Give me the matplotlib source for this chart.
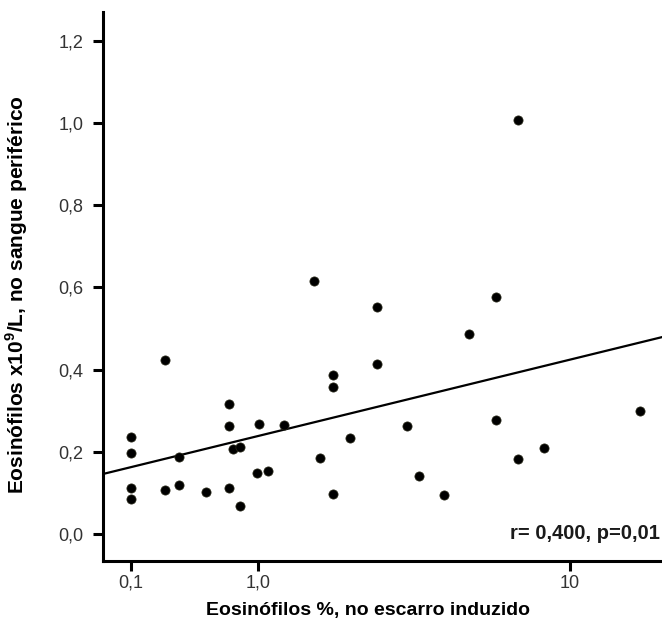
import numpy as np
import matplotlib
matplotlib.use("Agg")
import matplotlib.pyplot as plt

plt.rcParams['font.family'] = ['Liberation Sans', 'DejaVu Sans']
plt.rcParams['mathtext.fontset'] = 'custom'
plt.rcParams['mathtext.rm'] = 'Liberation Sans'
plt.rcParams['mathtext.bf'] = 'Liberation Sans:bold'

# sputum eosinophils (%) vs blood eosinophils (x10^9/L)
escarro = [0.10, 0.10, 0.10, 0.10, 0.28, 0.28, 0.365, 0.365, 0.55, 0.73,
           0.73, 0.73, 0.77, 0.83, 0.83, 0.99, 1.01, 1.11, 1.28, 1.67,
           1.75, 1.95, 1.95, 1.95, 2.23, 2.73, 2.73, 3.41, 3.70, 4.40,
           5.21, 6.24, 6.24, 7.20, 7.20, 8.50, 15.45]
sangue = [0.237, 0.198, 0.112, 0.084, 0.423, 0.107, 0.187, 0.119, 0.102, 0.316,
          0.263, 0.113, 0.206, 0.212, 0.067, 0.148, 0.268, 0.153, 0.266, 0.616,
          0.185, 0.386, 0.357, 0.097, 0.234, 0.552, 0.414, 0.263, 0.141, 0.095,
          0.486, 0.577, 0.277, 1.007, 0.183, 0.210, 0.300]

x_ticks = [0.1, 1.0, 10]
x_ticklabels = ['0,1', '1,0', '10']
y_ticks = [0.0, 0.2, 0.4, 0.6, 0.8, 1.0, 1.2]
y_ticklabels = ['0,0', '0,2', '0,4', '0,6', '0,8', '1,0', '1,2']

# fitted line (ends of the axis)
fit_x = [-0.024, 17.67]
fit_y = [0.146, 0.479]

OFFSET = 0.715


def fwd(x):
    return np.log10(np.asarray(x) + OFFSET)


def inv(t):
    return 10 ** np.asarray(t) - OFFSET


fig = plt.figure(figsize=(6.62, 6.24), dpi=100)
ax = fig.add_axes([103 / 662, 63 / 624, 1 - 103 / 662, 549 / 624])
ax.set_xscale('function', functions=(fwd, inv))

ax.scatter(escarro, sangue, s=44, color='black', edgecolors='#2a2a1a', linewidths=0.5, zorder=3)
ax.plot(fit_x, fit_y, color='black', lw=1.6, zorder=2)

ax.set_xlim(-0.024, 17.67)
ax.set_ylim(-0.0657, 1.270)

ax.spines['top'].set_visible(False)
ax.spines['right'].set_visible(False)
for s in ['left', 'bottom']:
    ax.spines[s].set_linewidth(2.2)

ax.set_xticks(x_ticks)
ax.set_xticklabels(x_ticklabels)
ax.xaxis.set_minor_locator(matplotlib.ticker.NullLocator())
ax.set_yticks(y_ticks)
ax.set_yticklabels(y_ticklabels)
ax.tick_params(axis='both', direction='out', length=7, width=2.2,
               labelsize=13, colors='black', labelcolor='#333333')
ax.tick_params(axis='x', pad=3)
ax.tick_params(axis='y', pad=7)

ax.set_xlabel('Eosinófilos %, no escarro induzido', fontsize=14, fontweight='bold')
ax.xaxis.set_label_coords(0.474, -0.074)
ax.set_ylabel(r'Eosinófilos x10$^{\mathbf{9}}$/L, no sangue periférico', fontsize=15,
              fontweight='bold')
ax.yaxis.set_label_coords(-0.13, 0.485)

ax.text(0.997, 0.051, 'r= 0,400, p=0,01', transform=ax.transAxes, ha='right', va='center',
        fontsize=14.5, fontweight='bold', color='#1a1a1a')

fig.savefig('out.png', dpi=100)
